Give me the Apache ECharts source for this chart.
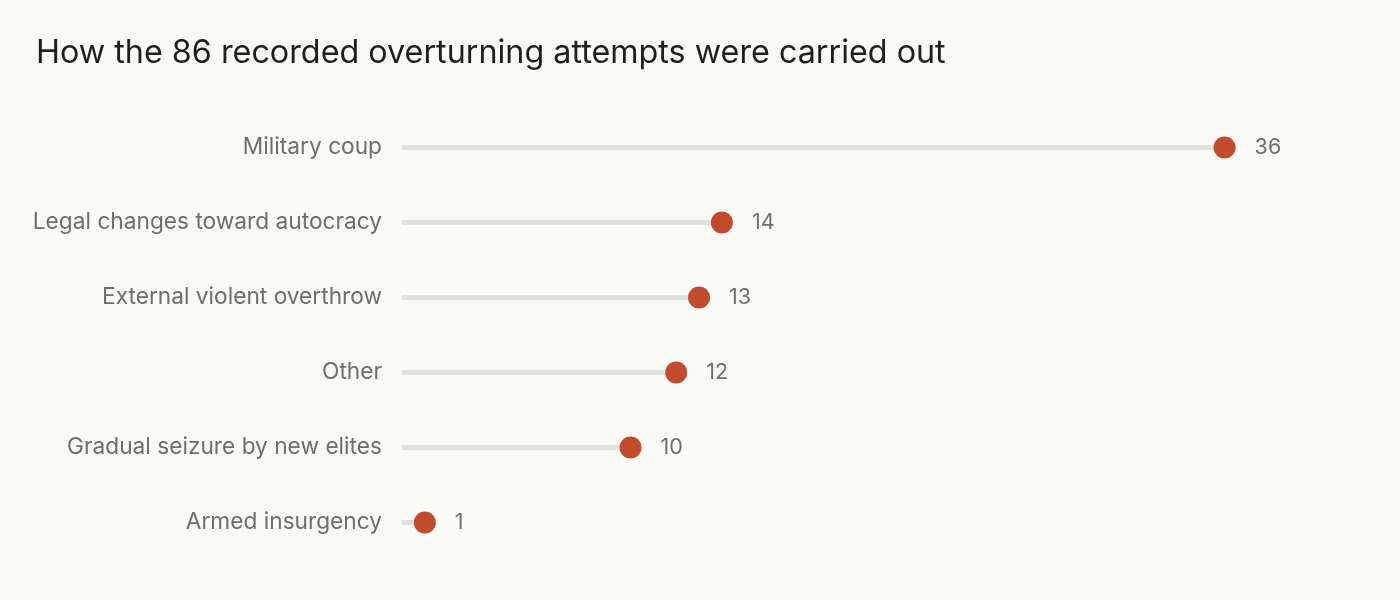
<!DOCTYPE html>
<html><head><meta charset="utf-8">
<script src="https://cdn.jsdelivr.net/npm/echarts@6/dist/echarts.min.js"></script>
<style>html,body{margin:0;padding:0;background:#fafaf6;}#c{width:1400px;height:600px;}</style>
</head><body><div id="c"></div>
<script>
const categories = ["Military coup","Legal changes toward autocracy","External violent overthrow","Other","Gradual seizure by new elites","Armed insurgency"];
const values = [36,14,13,12,10,1];
const titleText = "How the 86 recorded overturning attempts were carried out";

const chart = echarts.init(document.getElementById('c'));
chart.setOption({
  backgroundColor:'#fafaf6',
  textStyle:{fontFamily:'Inter'},
  title:{text:titleText,left:31,top:32,textStyle:{fontFamily:'Inter',fontSize:32.3,fontWeight:'normal',color:'#1f1f1f'}},
  grid:{left:402,right:84,top:110,bottom:40},
  xAxis:{type:'value',min:0,max:40,show:false},
  yAxis:{type:'category',data:categories,inverse:true,
    axisLine:{show:false},axisTick:{show:false},splitLine:{show:false},
    axisLabel:{fontFamily:'Inter',fontSize:22.7,color:'#6e6e6a',margin:20,padding:[2,0,0,0]}},
  series:[
    {type:'bar',data:values,barWidth:5,itemStyle:{color:'#e1e1dd'},silent:true,animation:false},
    {type:'scatter',data:values,symbolSize:22,itemStyle:{color:'#c24b2c',opacity:1},animation:false,
     label:{show:true,position:'right',distance:19,fontFamily:'Inter',fontSize:21.5,color:'#6e6e6a'}}
  ]
});
</script></body></html>
